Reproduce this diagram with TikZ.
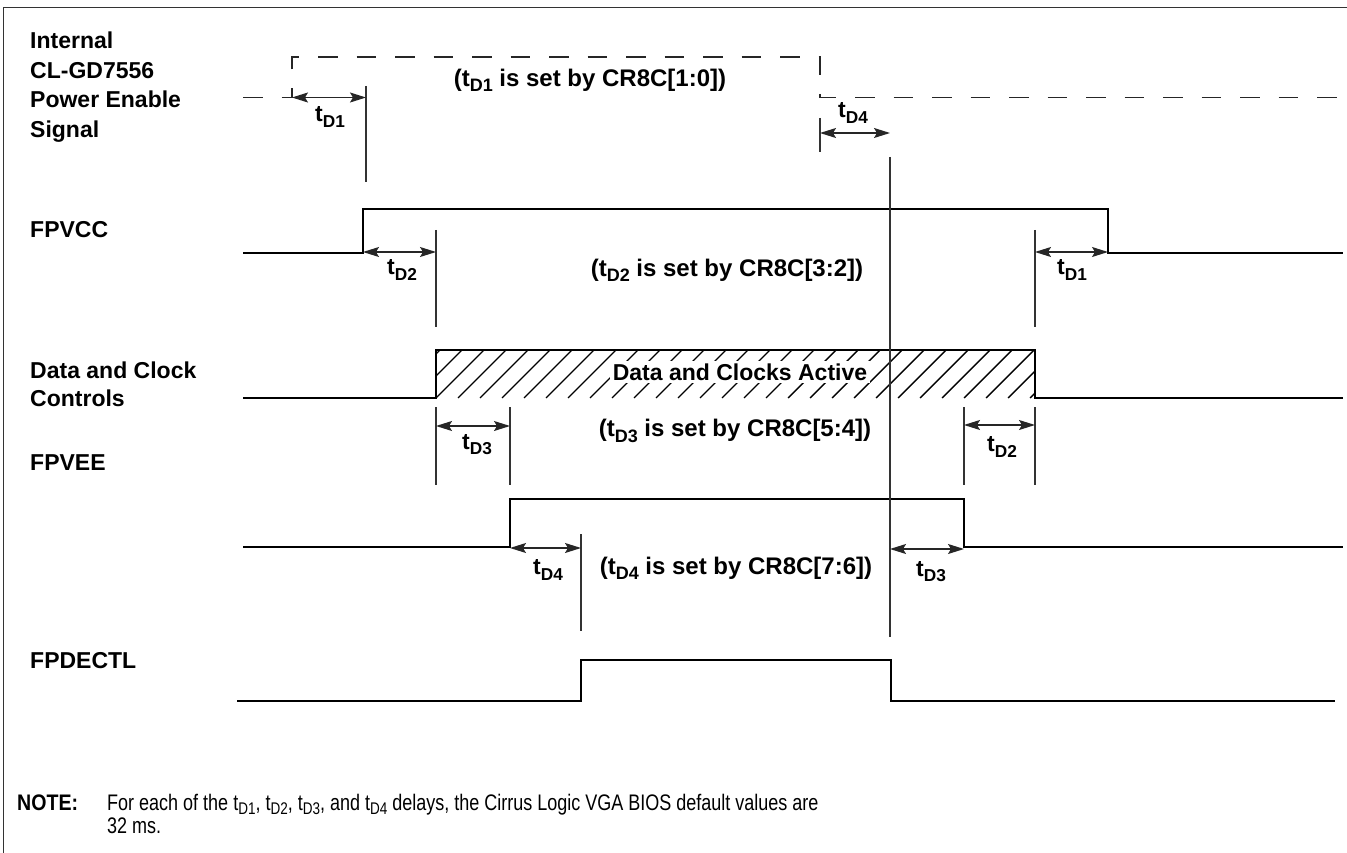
\documentclass[tikz,border=0pt]{standalone}
\usepackage{fontspec}
\usepackage{graphicx}
\setmainfont{Liberation Sans}
\newfontfamily\notefont[FakeStretch=0.8]{Liberation Sans}
\newfontfamily\notebold[FakeStretch=0.87]{Liberation Sans Bold}
\usetikzlibrary{arrows.meta}
\newcommand\tdd[1]{t\raisebox{-0.22em}{\scalebox{0.75}{D#1}}}
\begin{document}
\begin{tikzpicture}[x=1pt,y=-1pt,
  sig/.style={line width=2pt,black,line join=miter},
  tick/.style={line width=1.3pt,black!80},
  dim/.style={line width=1.3pt,black!85,{Stealth[length=16pt,width=10pt,inset=3pt]}-{Stealth[length=16pt,width=10pt,inset=3pt]}},
  lbl/.style={font=\fontsize{23}{28}\selectfont\bfseries,inner sep=0pt},
  setlbl/.style={font=\fontsize{24}{28}\selectfont\bfseries,inner sep=0pt},
  dashsig/.style={line width=1.8pt,black!85,dash pattern=on 19.5pt off 19pt},
  hatch/.style={line width=1.4pt,black}]
\useasboundingbox (0,0) rectangle (1347,853);
% frame
\draw[line width=1.5pt,black!80] (3.5,853) -- (3.5,7.5) -- (1347,7.5);

% signal labels
\node[lbl,anchor=base west] (l1) at (30,49) {Internal};
\node[lbl,anchor=base west] (l2) at (30,78.5) {CL-GD7556};
\node[lbl,anchor=base west] (l3) at (30,108) {Power Enable};
\node[lbl,anchor=base west] (l4) at (30,137.5) {Signal};
\node[lbl,anchor=base west] (lvcc) at (30,238) {FPVCC};
\node[lbl,anchor=base west] (ldc1) at (30,378) {Data and Clock};
\node[lbl,anchor=base west] (ldc2) at (30,406) {Controls};
\node[lbl,anchor=base west] (lvee) at (30,470) {FPVEE};
\node[lbl,anchor=base west] (ldec) at (30,668) {FPDECTL};

% internal power enable (dashed)
\coordinate (pe0) at (243,97.5);
\coordinate (pe1) at (292,97.5);
\coordinate (pe2) at (292,57);
\coordinate (pe3) at (820,57);
\coordinate (pe4) at (820,97.5);
\coordinate (pe5) at (1347,97.5);
\draw[dashsig] (pe0) -- (pe1) -- (pe2) -- (pe3) -- (pe4) -- (pe5);

% FPVCC
\coordinate (vc0) at (243,253);
\coordinate (vc1) at (363,253);
\coordinate (vc2) at (363,209);
\coordinate (vc3) at (1108,209);
\coordinate (vc4) at (1108,253);
\coordinate (vc5) at (1343,253);
\draw[sig] (vc0) -- (vc1) -- (vc2) -- (vc3) -- (vc4) -- (vc5);

% Data and clock
\coordinate (dc0) at (243,398);
\coordinate (dc1) at (436,398);
\coordinate (dc2) at (436,350);
\coordinate (dc3) at (1035,350);
\coordinate (dc4) at (1035,398);
\coordinate (dc5) at (1343,398);
\begin{scope}
\clip (dc1) rectangle (dc3);
\foreach \x in {392,414,...,1090} \draw[hatch] (\x,398) -- ({\x+48},350);
\end{scope}
\draw[sig] (dc0) -- (dc1) -- (dc2) -- (dc3) -- (dc4) -- (dc5);
\node[lbl,fill=white,inner sep=3pt] (dca) at (740,372) {Data and Clocks Active};

% FPVEE
\coordinate (ve0) at (243,547);
\coordinate (ve1) at (510,547);
\coordinate (ve2) at (510,499);
\coordinate (ve3) at (964,499);
\coordinate (ve4) at (964,547);
\coordinate (ve5) at (1343,547);
\draw[sig] (ve0) -- (ve1) -- (ve2) -- (ve3) -- (ve4) -- (ve5);

% FPDECTL
\coordinate (de0) at (237,701);
\coordinate (de1) at (581,701);
\coordinate (de2) at (581,660);
\coordinate (de3) at (891,660);
\coordinate (de4) at (891,701);
\coordinate (de5) at (1335,701);
\draw[sig] (de0) -- (de1) -- (de2) -- (de3) -- (de4) -- (de5);

% reference ticks
\coordinate (t1a) at (366,86);   \coordinate (t1b) at (366,182);
\draw[tick] (t1a) -- (t1b);
\coordinate (t4a) at (820,118);  \coordinate (t4b) at (820,152);
\draw[tick] (t4a) -- (t4b);
\coordinate (vla) at (890,157);  \coordinate (vlb) at (890,637);
\draw[tick] (vla) -- (vlb);
\coordinate (t2a) at (436,230);  \coordinate (t2b) at (436,327);
\draw[tick] (t2a) -- (t2b);
\coordinate (t5a) at (1035,230); \coordinate (t5b) at (1035,327);
\draw[tick] (t5a) -- (t5b);
\coordinate (t3a) at (436,407);  \coordinate (t3b) at (436,485);
\draw[tick] (t3a) -- (t3b);
\coordinate (t6a) at (510,407);  \coordinate (t6b) at (510,485);
\draw[tick] (t6a) -- (t6b);
\coordinate (t7a) at (964,407);  \coordinate (t7b) at (964,485);
\draw[tick] (t7a) -- (t7b);
\coordinate (t8a) at (1035,407); \coordinate (t8b) at (1035,485);
\draw[tick] (t8a) -- (t8b);
\coordinate (t9a) at (581,534);  \coordinate (t9b) at (581,631);
\draw[tick] (t9a) -- (t9b);

% dimension arrows
\coordinate (a1l) at (292,97.5);  \coordinate (a1r) at (366,97.5);
\draw[dim] (a1l) -- (a1r);
\coordinate (a2l) at (820,133);   \coordinate (a2r) at (890,133);
\draw[dim] (a2l) -- (a2r);
\coordinate (a3l) at (363,252);   \coordinate (a3r) at (436,252);
\draw[dim] (a3l) -- (a3r);
\coordinate (a4l) at (1035,252);  \coordinate (a4r) at (1108,252);
\draw[dim] (a4l) -- (a4r);
\coordinate (a5l) at (436,426);   \coordinate (a5r) at (510,426);
\draw[dim] (a5l) -- (a5r);
\coordinate (a6l) at (964,425);   \coordinate (a6r) at (1035,425);
\draw[dim] (a6l) -- (a6r);
\coordinate (a7l) at (510,548);   \coordinate (a7r) at (581,548);
\draw[dim] (a7l) -- (a7r);
\coordinate (a8l) at (890,549);   \coordinate (a8r) at (964,549);
\draw[dim] (a8l) -- (a8r);

% delay labels
\node[lbl] (d1) at (330,117) {\tdd{1}};
\node[lbl] (d4t) at (853,113) {\tdd{4}};
\node[lbl] (d2l) at (402,270) {\tdd{2}};
\node[lbl] (d1r) at (1072,270) {\tdd{1}};
\node[lbl] (d3l) at (477,445) {\tdd{3}};
\node[lbl] (d2r) at (1002,447) {\tdd{2}};
\node[lbl] (d4l) at (548,570) {\tdd{4}};
\node[lbl] (d3r) at (931,572) {\tdd{3}};

\node[setlbl] (s1) at (590,80) {(\tdd{1} is set by CR8C[1:0])};
\node[setlbl] (s2) at (727,270) {(\tdd{2} is set by CR8C[3:2])};
\node[setlbl] (s3) at (735,431) {(\tdd{3} is set by CR8C[5:4])};
\node[setlbl] (s4) at (736,568) {(\tdd{4} is set by CR8C[7:6])};

% note
\node[font=\fontsize{22.5}{25}\selectfont\notebold,anchor=base west,inner sep=0pt] (nt) at (17,810) {NOTE:};
\node[font=\fontsize{22.5}{25}\selectfont\notefont,anchor=base west,inner sep=0pt] (ntx) at (107,810)
  {For each of the \tdd{1}, \tdd{2}, \tdd{3}, and \tdd{4} delays, the Cirrus Logic VGA BIOS default values are};
\node[font=\fontsize{22.5}{25}\selectfont\notefont,anchor=base west,inner sep=0pt] (ntx2) at (107,833) {32 ms.};
\end{tikzpicture}
\end{document}
